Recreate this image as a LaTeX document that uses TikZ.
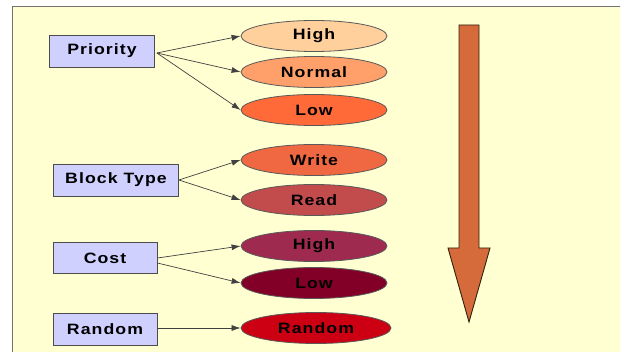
\documentclass[tikz,border=0pt]{standalone}
\usepackage{fontspec}
\newfontfamily\lblfont[FakeStretch=1.18, LetterSpace=7]{Liberation Sans}
\usetikzlibrary{shapes.geometric,arrows.meta}
\definecolor{bgyellow}{HTML}{FFFFD2}
\definecolor{boxblue}{HTML}{D0D0FF}
\definecolor{cHigh}{HTML}{FFCF9C}
\definecolor{cNormal}{HTML}{FF9F6A}
\definecolor{cLow}{HTML}{FF6A38}
\definecolor{cWrite}{HTML}{F06842}
\definecolor{cRead}{HTML}{C24B4C}
\definecolor{cCHigh}{HTML}{9E2A50}
\definecolor{cCLow}{HTML}{820028}
\definecolor{cRand}{HTML}{CC0012}
\definecolor{bigarrow}{HTML}{D56B3A}
\begin{document}
\begin{tikzpicture}[x=1pt,y=-1pt,
  lbl/.style={font=\lblfont\bfseries\fontsize{15}{18}\selectfont, text=black},
  catbox/.style={lbl, rectangle, draw=black!70, line width=0.8pt, fill=boxblue, inner sep=0pt, minimum height=32pt},
  val/.style={lbl, ellipse, draw=black!65, line width=0.8pt, inner sep=0pt, minimum width=146pt, minimum height=31pt},
  conn/.style={draw=black!75, line width=0.7pt, -{Latex[length=9pt,width=6pt]}}
]
\useasboundingbox (0,0) rectangle (620,352);
\fill[white] (0,0) rectangle (620,352);
\fill[bgyellow] (12,7) rectangle (620,352);
\draw[black!55,line width=1pt] (12,352) -- (12,7) -- (620,7);

\node[catbox, minimum width=105pt] (pri) at (102,51) {Priority};
\node[catbox, minimum width=125pt] (blk) at (116,180) {Block Type};
\node[catbox, minimum width=104pt, minimum height=31pt] (cost) at (105,258) {Cost};
\node[catbox, minimum width=104pt] (rnd) at (105,329) {Random};

\node[val, fill=cHigh] (ph) at (314,36) {High};
\node[val, fill=cNormal] (pn) at (314,72) {Normal};
\node[val, fill=cLow] (pl) at (314,110) {Low};
\node[val, fill=cWrite] (bw) at (314,160) {Write};
\node[val, fill=cRead] (br) at (314,200) {Read};
\node[val, fill=cCHigh] (ch) at (314,246) {High};
\node[val, fill=cCLow] (cl) at (314,283) {Low};
\node[val, fill=cRand, minimum width=150pt] (rr) at (316,328) {Random};

\draw[conn] ([xshift=2pt,yshift=-2pt]pri.east) -- (ph.west);
\draw[conn] ([xshift=2pt,yshift=-2pt]pri.east) -- (pn.west);
\draw[conn] ([xshift=2pt,yshift=-2pt]pri.east) -- (pl.west);
\draw[conn] (blk.east) -- (bw.west);
\draw[conn] (blk.east) -- (br.west);
\draw[conn] (cost.east) -- (ch.west);
\draw[conn] ([yshift=-5pt]cost.east) -- (cl.west);
\draw[conn] (rnd.east |- rr.west) -- (rr.west);

\draw[fill=bigarrow, draw=black!75!brown, line width=0.9pt, line join=miter]
  (459,25) -- (479,25) -- (479,248) -- (490,248) -- (469,322) -- (448,248) -- (459,248) -- cycle;
\end{tikzpicture}
\end{document}
